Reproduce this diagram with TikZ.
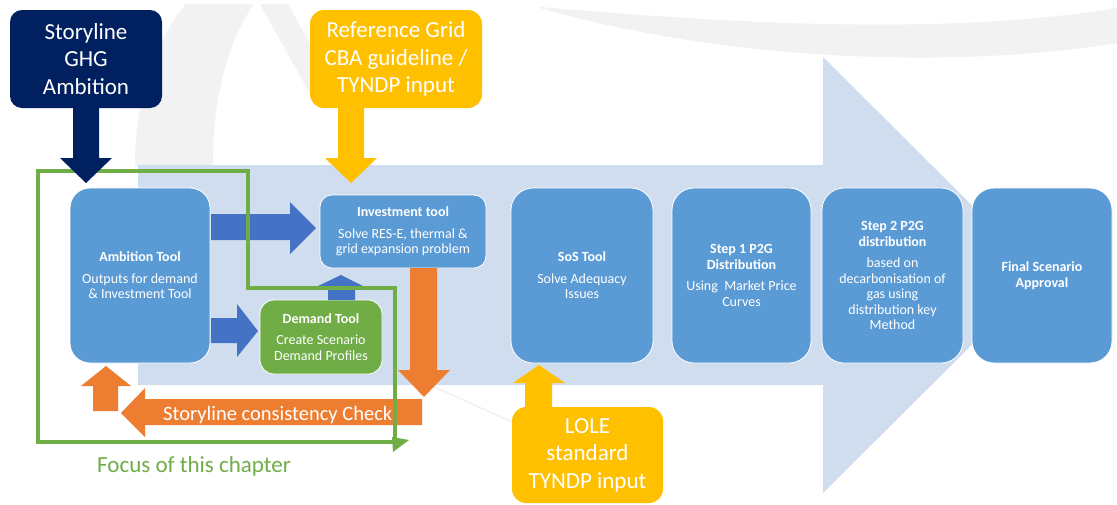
\documentclass[tikz,border=0pt]{standalone}
\usepackage{fontspec}
\setmainfont{Carlito}
\definecolor{navy}{HTML}{002060}
\definecolor{gold}{HTML}{FFC000}
\definecolor{boxblue}{HTML}{5B9BD5}
\definecolor{arrblue}{HTML}{4472C4}
\definecolor{lightarr}{RGB}{208,221,238}
\definecolor{orangeA}{HTML}{ED7D31}
\definecolor{greenA}{HTML}{70AD47}
\definecolor{swoosh}{RGB}{242,242,242}
\newcommand{\boxfont}{\fontsize{14}{15.5}\selectfont}
\newcommand{\bigfont}{\fontsize{23}{27.5}\selectfont}
\begin{document}
\begin{tikzpicture}[x=1pt,y=-1pt,
  toolbox/.style={fill=boxblue, draw=white, line width=0.8pt, text=white,
    align=center, inner sep=0pt, font=\boxfont},
  inputbox/.style={draw=none, text=white, align=center, inner sep=0pt, font=\bigfont},
  blockarrow/.style={draw=none}]
\useasboundingbox (0,0) rectangle (1117,504);
\fill[white] (0,0) rectangle (1117,504);

% faint watermark swooshes
\fill[swoosh] (540,7) .. controls (750,25) and (950,35) .. (1117,8)
  -- (1117,43) .. controls (950,70) and (720,60) .. (540,8) -- cycle;
\fill[swoosh] (135,166) .. controls (135,95) and (158,35) .. (186,4)
  -- (254,4) .. controls (228,40) and (212,100) .. (213,166) -- cycle;
\fill[swoosh] (260,4) -- (288,4) -- (330,80) -- (318,108) -- cycle;
\draw[swoosh!80!gray!40, line width=1.5pt] (430,385) -- (512,422);

% big process arrow
\fill[lightarr] (138,165) -- (823,165) -- (823,57) -- (1042,275) -- (823,493)
  -- (823,385) -- (138,385) -- cycle;

% nodes
\node[toolbox, rounded corners=20pt, minimum width=140pt, minimum height=175pt]
  (amb) at (140,275.5) {\textbf{Ambition Tool}\\[6pt]Outputs for demand\\\& Investment Tool};
\node[toolbox, rounded corners=12pt, minimum width=166pt, minimum height=73pt]
  (inv) at (403,231.5) {\textbf{Investment tool}\\[6pt]Solve RES-E, thermal \&\\grid expansion problem};
\node[toolbox, fill=greenA, rounded corners=14pt, minimum width=122pt, minimum height=74pt]
  (dem) at (321,337) {\textbf{Demand Tool}\\[6pt]Create Scenario\\Demand Profiles};
\node[toolbox, rounded corners=22pt, minimum width=142pt, minimum height=175pt]
  (sos) at (582,275.5) {\textbf{SoS Tool}\\[6pt]Solve Adequacy\\Issues};
\node[toolbox, rounded corners=22pt, minimum width=139pt, minimum height=175pt]
  (s1) at (741.5,275.5) {\textbf{Step 1 P2G}\\\textbf{Distribution}\\[6pt]Using\ \ Market Price\\Curves};
\node[toolbox, rounded corners=22pt, minimum width=141pt, minimum height=175pt]
  (s2) at (892.5,275.5) {\textbf{Step 2 P2G}\\\textbf{distribution}\\[6pt]based on\\decarbonisation of\\gas using\\distribution key\\Method};
\node[toolbox, rounded corners=22pt, minimum width=140pt, minimum height=175pt]
  (fin) at (1042,275.5) {\textbf{Final Scenario}\\\textbf{Approval}};

\node[inputbox, fill=navy, rounded corners=12pt, minimum width=152pt, minimum height=98pt]
  (story) at (86,59) {Storyline\\GHG\\Ambition};
\node[inputbox, fill=gold, rounded corners=14pt, minimum width=172pt, minimum height=98pt]
  (ref) at (396,59) {Reference Grid\\CBA guideline /\\TYNDP input};
\node[inputbox, fill=gold, rounded corners=14pt, minimum width=151pt, minimum height=96pt]
  (lole) at (587.5,455) {LOLE\\standard\\TYNDP input};

% blue block arrows
\fill[arrblue] (211,214) -- (290,214) -- (290,202) -- (316,228) -- (290,254)
  -- (290,240) -- (211,240) -- cycle;
\fill[arrblue] (211,318) -- (237,318) -- (237,304) -- (258,331) -- (237,357)
  -- (237,343) -- (211,343) -- cycle;
\fill[arrblue] (328,300) -- (328,286) -- (318,286) -- (341,275) -- (363,286)
  -- (355,286) -- (355,300) -- cycle;

% orange block arrows
\fill[orangeA] (410,268) -- (437,268) -- (437,370) -- (450,370) -- (424,397)
  -- (398,370) -- (410,370) -- cycle;
\fill[orangeA] (422,399) -- (145,399) -- (145,388) -- (121,413) -- (145,437)
  -- (145,425) -- (422,425) -- cycle;
\fill[orangeA] (93,411) -- (93,386) -- (81,386) -- (106,366) -- (131,386)
  -- (118,386) -- (118,411) -- cycle;
\node[anchor=base west, text=white, inner sep=0pt, font=\fontsize{20.5}{24}\selectfont]
  (check) at (163,420) {Storyline consistency Check};

% focus outline
\draw[greenA, line width=4.5pt, line join=miter]
  (38,171) -- (248,171) -- (248,288) -- (395,288) -- (395,442) -- (38,442) -- cycle;
\fill[greenA] (392,437) -- (409,440) -- (393,452) -- cycle;
\node[anchor=base west, text=greenA, inner sep=0pt, font=\fontsize{23}{27}\selectfont]
  (focus) at (97,472) {Focus of this chapter};

% input arrows
\fill[navy] (73,108) -- (99,108) -- (99,158) -- (112,158) -- (86,183) -- (60,158)
  -- (73,158) -- cycle;
\fill[gold] (338,108) -- (364,108) -- (364,158) -- (377,158) -- (351,183) -- (325,158)
  -- (338,158) -- cycle;
\fill[gold] (525,407) -- (525,383) -- (513,383) -- (539,365) -- (565,383) -- (552,383)
  -- (552,407) -- cycle;
\end{tikzpicture}
\end{document}
